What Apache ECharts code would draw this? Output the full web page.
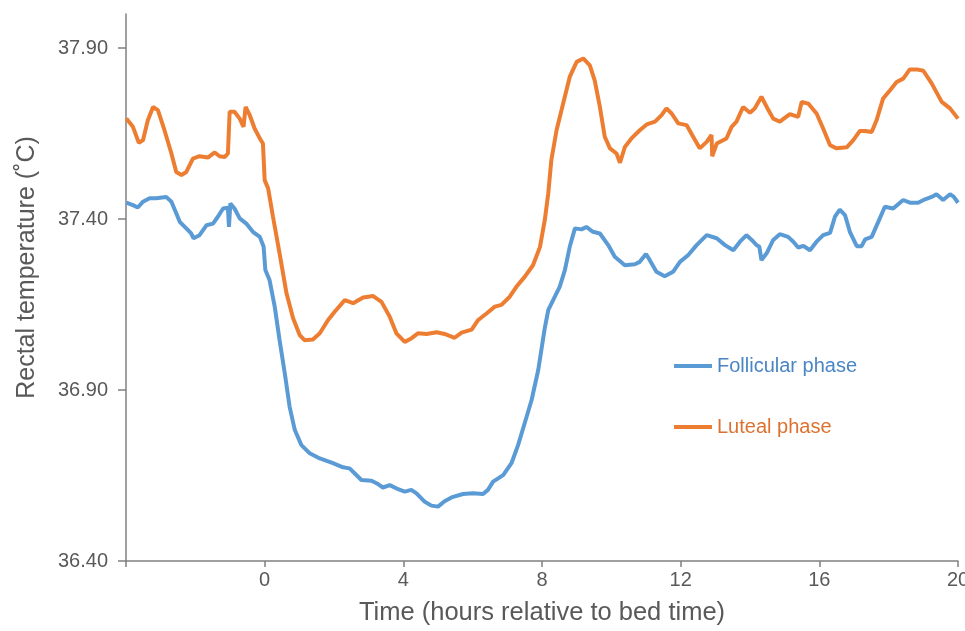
<!DOCTYPE html>
<html>
<head>
<meta charset="utf-8">
<script src="https://cdn.jsdelivr.net/npm/echarts@6/dist/echarts.min.js"></script>
<style>html,body{margin:0;padding:0;background:#fff;}#chart{width:965px;height:631px;}</style>
</head>
<body>
<div id="chart"></div>
<script>
// Hours relative to bed time
var follicularHours = [-3.99,-3.80,-3.66,-3.51,-3.32,-3.13,-2.84,-2.69,-2.55,-2.45,-2.26,-2.12,-2.05,-1.88,-1.68,-1.49,-1.35,-1.20,-1.06,-1.03,-0.99,-0.87,-0.72,-0.53,-0.34,-0.14,-0.03,0.02,0.14,0.29,0.43,0.58,0.72,0.87,1.06,1.30,1.59,1.97,2.26,2.45,2.60,2.79,3.08,3.27,3.41,3.61,3.85,4.04,4.23,4.38,4.62,4.81,5.00,5.19,5.39,5.72,6.01,6.30,6.44,6.59,6.88,7.12,7.31,7.50,7.70,7.89,8.08,8.18,8.37,8.51,8.66,8.80,8.95,9.14,9.28,9.47,9.67,9.91,10.10,10.39,10.68,10.82,11.00,11.11,11.30,11.54,11.78,11.98,12.22,12.46,12.75,13.04,13.28,13.52,13.71,13.90,14.05,14.19,14.27,14.33,14.48,14.67,14.86,15.10,15.25,15.39,15.54,15.73,15.92,16.11,16.31,16.45,16.59,16.74,16.88,17.08,17.22,17.32,17.51,17.70,17.89,18.13,18.42,18.61,18.85,19.05,19.24,19.38,19.57,19.77,19.88,20.00];
var follicularTemp = [37.448,37.441,37.434,37.451,37.461,37.461,37.465,37.451,37.417,37.392,37.373,37.358,37.344,37.353,37.382,37.387,37.407,37.431,37.433,37.377,37.446,37.431,37.402,37.387,37.363,37.348,37.319,37.251,37.222,37.144,37.046,36.949,36.851,36.783,36.739,36.715,36.700,36.686,36.674,36.671,36.656,36.637,36.635,36.625,36.615,36.622,36.610,36.603,36.608,36.598,36.573,36.562,36.559,36.575,36.586,36.596,36.598,36.596,36.608,36.632,36.651,36.686,36.739,36.803,36.871,36.958,37.081,37.134,37.173,37.202,37.251,37.319,37.373,37.370,37.377,37.363,37.358,37.324,37.290,37.265,37.268,37.275,37.298,37.280,37.246,37.233,37.246,37.275,37.295,37.324,37.353,37.344,37.324,37.309,37.334,37.353,37.339,37.324,37.319,37.280,37.300,37.339,37.356,37.348,37.334,37.317,37.322,37.309,37.334,37.353,37.360,37.407,37.428,37.412,37.363,37.321,37.321,37.341,37.348,37.392,37.436,37.431,37.456,37.448,37.448,37.458,37.465,37.473,37.456,37.473,37.465,37.448];

var lutealHours = [-3.99,-3.80,-3.63,-3.51,-3.37,-3.22,-3.08,-2.89,-2.69,-2.55,-2.40,-2.26,-2.07,-1.88,-1.64,-1.44,-1.30,-1.15,-1.06,-1.01,-0.87,-0.72,-0.61,-0.55,-0.43,-0.29,-0.14,-0.05,0.00,0.10,0.24,0.43,0.63,0.82,1.01,1.15,1.39,1.59,1.83,2.02,2.31,2.55,2.84,3.13,3.37,3.61,3.80,4.04,4.23,4.42,4.67,4.96,5.19,5.48,5.68,5.97,6.16,6.40,6.64,6.83,7.07,7.26,7.50,7.74,7.94,8.08,8.18,8.27,8.42,8.61,8.80,9.00,9.19,9.38,9.52,9.67,9.81,9.96,10.15,10.25,10.39,10.58,10.82,11.02,11.26,11.45,11.59,11.74,11.93,12.17,12.36,12.55,12.75,12.89,12.91,13.04,13.32,13.47,13.61,13.80,14.00,14.14,14.33,14.53,14.67,14.86,15.15,15.39,15.49,15.68,15.92,16.11,16.31,16.50,16.79,16.98,17.17,17.32,17.51,17.65,17.84,18.04,18.23,18.42,18.61,18.81,19.00,19.24,19.53,19.77,20.00];
var lutealTemp = [37.694,37.670,37.623,37.631,37.689,37.728,37.719,37.660,37.592,37.538,37.529,37.538,37.577,37.584,37.580,37.595,37.584,37.582,37.592,37.714,37.714,37.694,37.670,37.728,37.704,37.665,37.636,37.621,37.514,37.490,37.407,37.300,37.183,37.110,37.061,37.046,37.048,37.066,37.105,37.129,37.163,37.154,37.171,37.175,37.158,37.114,37.066,37.041,37.051,37.066,37.064,37.069,37.064,37.053,37.068,37.077,37.105,37.124,37.144,37.149,37.173,37.202,37.231,37.265,37.318,37.397,37.475,37.573,37.660,37.738,37.816,37.860,37.870,37.850,37.806,37.728,37.641,37.607,37.592,37.565,37.611,37.636,37.660,37.677,37.685,37.704,37.724,37.709,37.680,37.675,37.641,37.607,37.626,37.646,37.584,37.621,37.636,37.670,37.685,37.728,37.711,37.724,37.758,37.719,37.694,37.685,37.707,37.699,37.743,37.738,37.709,37.665,37.616,37.607,37.610,37.631,37.658,37.658,37.655,37.689,37.753,37.777,37.801,37.811,37.838,37.838,37.834,37.797,37.743,37.724,37.694];

var yTickValues = [36.4, 36.9, 37.4, 37.9];
var seriesNames = ['Follicular phase', 'Luteal phase'];
var xTitle = 'Time (hours relative to bed time)';
var yTitle = 'Rectal temperature (˚C)';

function zip(xs, ys) { return xs.map(function (x, i) { return [x, ys[i]]; }); }

var BLUE = '#5B9BD5', ORANGE = '#ED7D31', TXT = '#595959', AX = '#808080';
var FONT = '"Liberation Sans", Arial, sans-serif';

var chart = echarts.init(document.getElementById('chart'), null, { renderer: 'canvas' });
chart.setOption({
  animation: false,
  backgroundColor: '#ffffff',
  grid: { left: 126, right: 7, top: 14, bottom: 70, containLabel: false, outerBoundsMode: 'none' },
  legend: {
    orient: 'vertical', left: 674, top: 354, padding: 0,
    itemWidth: 38, itemHeight: 4, itemGap: 37, icon: 'rect',
    textStyle: { fontFamily: FONT, fontSize: 20, lineHeight: 24 },
    data: [
      { name: seriesNames[0], textStyle: { color: '#4A86C5' } },
      { name: seriesNames[1], textStyle: { color: '#DD7230' } }
    ]
  },
  xAxis: {
    type: 'value', min: -4, max: 20, interval: 4,
    name: xTitle, nameLocation: 'middle', nameGap: 39,
    nameTextStyle: { fontFamily: FONT, fontSize: 25.5, color: TXT },
    axisLine: { show: true, onZero: false, lineStyle: { color: AX, width: 1.5 } },
    axisTick: { show: true, length: 6, lineStyle: { color: AX, width: 1.5 } },
    axisLabel: { margin: 9, fontFamily: FONT, fontSize: 20, color: TXT,
      formatter: function (v) { return v === -4 ? '' : String(v); } },
    splitLine: { show: false }
  },
  yAxis: {
    type: 'value', min: 36.4, max: 38.0,
    name: yTitle, nameLocation: 'middle', nameGap: 86, nameRotate: 90,
    nameTextStyle: { fontFamily: FONT, fontSize: 25, color: TXT, padding: [0, 0, 0, 40] },
    axisLine: { show: true, onZero: false, lineStyle: { color: AX, width: 1.5 } },
    axisTick: { show: true, length: 8, customValues: yTickValues, lineStyle: { color: AX, width: 1.5 } },
    axisLabel: { margin: 18, fontFamily: FONT, fontSize: 20, color: TXT, customValues: yTickValues,
      formatter: function (v) { return v.toFixed(2); } },
    splitLine: { show: false }
  },
  series: [
    { name: seriesNames[0], type: 'line', data: zip(follicularHours, follicularTemp),
      showSymbol: false, symbol: 'none', color: BLUE, lineStyle: { color: BLUE, width: 4 } },
    { name: seriesNames[1], type: 'line', data: zip(lutealHours, lutealTemp),
      showSymbol: false, symbol: 'none', color: ORANGE, lineStyle: { color: ORANGE, width: 4 } }
  ]
});
</script>
</body>
</html>
